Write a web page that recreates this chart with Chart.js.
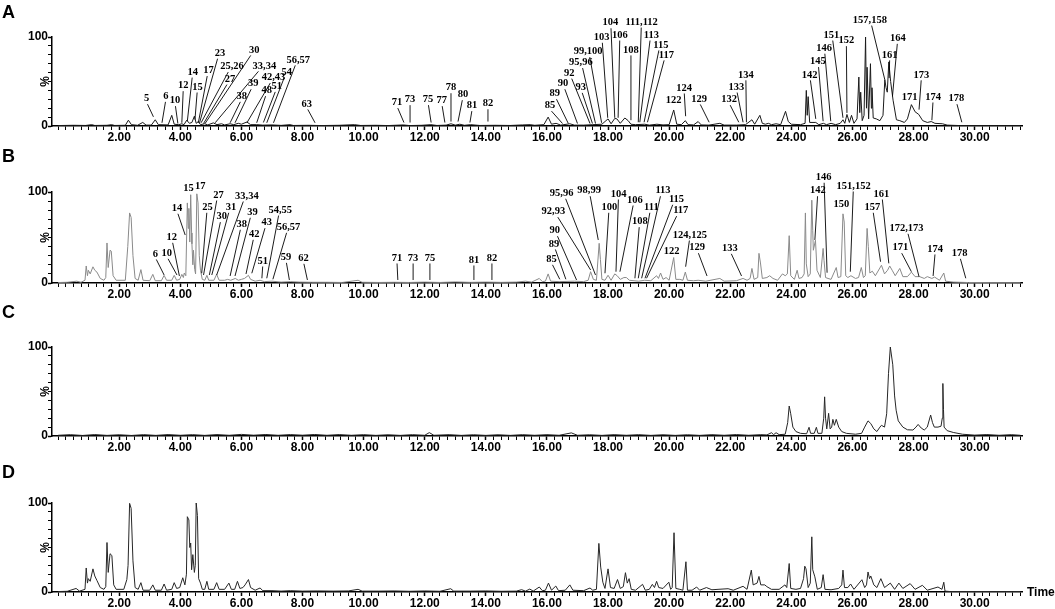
<!DOCTYPE html>
<html>
<head>
<meta charset="utf-8">
<script src="https://cdn.jsdelivr.net/npm/chart.js@4.4.1/dist/chart.umd.min.js"></script>
<style>
  html,body{margin:0;padding:0;background:#fff;}
  #wrap{position:relative;width:1055px;height:609px;overflow:hidden;background:#fff;}
  canvas{position:absolute;left:0;}
  .plet{position:absolute;left:2px;font:bold 18px "Liberation Sans",Arial,sans-serif;line-height:18px;height:18px;color:#000;}
</style>
</head>
<body>
<div id="wrap">
  <canvas id="cA" width="1055" height="157" style="top:0px"></canvas>
  <canvas id="cB" width="1055" height="154" style="top:157px"></canvas>
  <canvas id="cC" width="1055" height="155" style="top:311px"></canvas>
  <canvas id="cD" width="1055" height="143" style="top:466px"></canvas>
  <div class="plet" style="top:3px">A</div>
  <div class="plet" style="top:147px">B</div>
  <div class="plet" style="top:303px">C</div>
  <div class="plet" style="top:463px">D</div>
</div>
<script>
// ---------------- axis definitions ----------------
const xMin = -0.2, xMax = 31.55;
const xMajorTicks = [2,4,6,8,10,12,14,16,18,20,22,24,26,28,30];
const xMinorStep = 0.25;
const yTickValues = [0,10,20,30,40,50,60,70,80,90,100];
const yLabelTicks = [0,100];
const xTitle = 'Time';
const yTitle = '%';

// ---------------- traces: [time (min), intensity (%)] ----------------
const traceA = [
[0.0,0.5],[0.5,0.8],[0.9,0.6],[1.1,1.5],[1.2,0.6],[1.6,0.8],[1.75,1.5],[1.85,0.6],[2.2,0.8],[2.30,6.5],[2.4,1.5],
[2.6,0.8],[2.77,4],[2.88,1],[3.05,1],[3.18,7],[3.28,1.5],[3.6,1.2],[3.72,12],[3.8,2],[3.95,1.5],[4.05,2.5],[4.12,1.5],
[4.21,6.5],[4.3,3],[4.38,4],[4.46,11],[4.52,3],[4.59,5],[4.66,1.5],[4.8,2.5],[4.9,1.2],[5.08,3.5],[5.2,1.5],[5.35,2.5],
[5.45,1.2],[5.63,2.5],[5.75,1.5],[5.9,3],[6.0,2],[6.18,4.5],[6.3,1.5],[6.5,1.5],[6.7,1.0],[7.0,1.2],[7.3,0.7],[7.59,1.5],
[7.7,0.6],[8.2,0.8],[8.6,0.5],[9.2,0.8],[9.7,1.5],[9.9,0.6],[10.4,0.8],[10.8,0.5],[11.3,1.2],[11.5,0.5],[11.9,0.8],
[12.2,1.5],[12.4,0.6],[12.7,1.0],[12.86,2.5],[13.0,1.0],[13.15,2],[13.3,0.8],[13.5,1.5],[13.8,0.6],[14.3,0.8],[14.8,0.6],
[15.2,1.2],[15.45,1.5],[15.6,0.8],[15.9,1.5],[16.04,10],[16.15,2],[16.3,3],[16.45,1],[16.75,2.5],[16.9,1],[17.2,1],
[17.5,1.5],[17.8,2],[18.0,8],[18.1,2.5],[18.22,8.5],[18.29,8],[18.4,3],[18.55,9],[18.66,6],[18.75,2],[18.9,1.5],[19.2,2],
[19.35,1],[19.6,2],[19.8,1.2],[20.0,1.5],[20.15,18],[20.25,2],[20.4,1.5],[20.53,6],[20.62,1.5],[20.8,1.2],[20.95,5],
[21.05,1.2],[21.3,1],[21.66,3],[21.8,1],[22.2,1],[22.5,1.5],[22.71,7],[22.8,2],[22.97,12],[23.05,3],[23.15,2],[23.25,3],
[23.35,1.5],[23.5,2.5],[23.65,1.5],[23.81,16.5],[23.9,5],[24.0,2],[24.3,1.5],[24.45,3],[24.49,40],[24.52,12],[24.55,33],
[24.6,4],[24.8,4],[24.9,1.5],[25.05,3],[25.15,1.5],[25.3,3],[25.45,1.5],[25.6,3],[25.69,7],[25.75,3],[25.82,13],[25.9,4],
[25.97,12],[26.05,3],[26.15,8],[26.21,55],[26.24,15],[26.27,38],[26.32,6],[26.38,12],[26.43,100],[26.46,20],[26.48,66],
[26.53,8],[26.59,70],[26.62,20],[26.64,43],[26.68,9],[26.78,8],[26.9,6],[27.0,12],[27.06,52],[27.1,43],[27.14,38],
[27.19,72],[27.25,50],[27.33,29],[27.44,7],[27.55,6],[27.7,4],[27.8,8],[27.93,24],[28.05,16],[28.17,13],[28.3,6],
[28.45,4],[28.58,5],[28.7,3],[28.95,2.5],[29.1,1],[29.5,0.5],[30.5,0.4],[31.5,0.3]
];

const traceB = [
[0.0,0.5],[0.3,0.8],[0.61,2],[0.75,0.8],[0.88,3],[0.92,18.7],[0.96,8],[0.99,14],[1.05,10],[1.14,17.8],[1.2,14],[1.27,12],
[1.38,5],[1.5,3],[1.56,6],[1.60,44],[1.64,17],[1.70,36],[1.74,35],[1.80,8],[1.9,3],[2.2,3],[2.28,40],[2.34,77],[2.39,72],
[2.45,30],[2.52,5],[2.62,3],[2.71,14.7],[2.78,3],[3.0,2.5],[3.10,9.5],[3.18,2.5],[3.38,2.5],[3.47,8.4],[3.55,3],[3.72,3],
[3.80,8.4],[3.88,3],[3.98,4],[4.05,9.5],[4.10,6],[4.13,11],[4.18,8],[4.23,88],[4.26,60],[4.28,82],[4.31,45],[4.34,97],
[4.37,55],[4.38,43],[4.41,20],[4.43,36],[4.47,15],[4.50,10],[4.54,98],[4.58,88],[4.62,30],[4.66,14],[4.72,4],[4.8,3],
[4.87,8.4],[4.93,3],[5.1,3],[5.19,9.5],[5.27,3],[5.45,3],[5.55,4],[5.65,3],[5.80,5],[5.9,3],[6.0,4],[6.1,5],[6.23,8.4],
[6.3,4],[6.45,2],[6.61,3],[6.75,1.5],[7.0,2],[7.3,1],[7.6,1.5],[7.9,1],[8.3,0.8],[8.8,0.8],[9.3,0.6],[9.82,3],[9.95,0.8],
[10.5,0.6],[11.0,0.8],[11.5,0.6],[12.0,1],[12.5,0.6],[13.0,1.2],[13.5,0.7],[14.0,1],[14.5,0.7],[15.0,1],[15.3,2],[15.5,1],
[15.75,5],[15.85,1.5],[15.95,2],[16.04,10],[16.12,2],[16.4,1.5],[16.9,2],[17.2,1.5],[17.35,3],[17.43,12.4],[17.52,4],
[17.62,3],[17.71,43.6],[17.75,26],[17.8,4],[17.9,3],[18.0,8.5],[18.1,3],[18.22,10],[18.3,8],[18.4,4],[18.52,6],[18.6,6],
[18.7,3],[19.0,2],[19.2,3],[19.4,2.5],[19.59,8],[19.65,5],[19.72,11],[19.8,4],[19.9,6],[20.0,3],[20.15,28],[20.22,4],
[20.35,4],[20.45,3],[20.53,12],[20.6,3],[20.8,2.5],[20.95,3],[21.2,2],[21.66,5],[21.8,2],[22.2,2.5],[22.42,5],[22.55,3],
[22.65,5],[22.71,16],[22.78,4],[22.9,6],[22.94,32.6],[22.99,22],[23.05,5],[23.2,6],[23.29,8],[23.4,5],[23.55,3],[23.71,10],
[23.8,8],[23.87,10],[23.93,52],[23.98,8],[24.1,4],[24.19,14],[24.25,5],[24.35,6],[24.42,10],[24.46,77],[24.49,21],[24.55,7],
[24.62,10],[24.67,91],[24.70,58],[24.72,36],[24.79,47],[24.84,14],[24.95,6],[25.04,38],[25.07,25],[25.12,6],[25.2,5],
[25.3,4],[25.47,17],[25.53,6],[25.62,7],[25.69,76],[25.73,67],[25.78,8],[25.85,6],[25.95,8],[26.1,5],[26.2,6],[26.29,17],
[26.36,6],[26.42,8],[26.48,60],[26.52,40],[26.57,11],[26.65,13],[26.75,8],[26.95,19.5],[27.05,10],[27.15,14],[27.22,18.7],
[27.3,14],[27.4,8],[27.55,16],[27.65,7],[27.8,7],[27.93,12],[28.05,7],[28.2,7],[28.35,5],[28.45,7],[28.6,5],[28.69,6.5],
[28.85,3],[28.99,11],[29.05,2],[29.3,1],[29.8,0.5],[30.5,0.4],[31.5,0.3]
];

const traceC = [
[0,0.8],[0.4,1.5],[0.8,0.6],[1.2,1.6],[1.6,0.7],[2.0,1.4],[2.4,0.6],[2.8,1.5],[3.2,0.7],[3.6,1.6],[4.0,0.8],[4.4,1.5],
[4.8,0.7],[5.2,1.6],[5.6,0.8],[6.0,1.8],[6.4,0.9],[6.8,1.7],[7.2,0.8],[7.6,1.6],[8.0,0.9],[8.4,1.7],[8.8,0.8],[9.2,1.6],
[9.6,0.8],[10.0,1.5],[10.4,0.7],[10.8,1.4],[11.2,0.7],[11.6,1.5],[12.0,0.8],[12.15,3.8],[12.3,0.8],[12.8,1.5],[13.2,0.7],
[13.6,1.4],[14.0,0.7],[14.4,1.4],[14.8,0.7],[15.2,1.5],[15.6,0.8],[16.0,1.5],[16.4,0.8],[16.8,3.5],[17.0,0.8],[17.4,1.4],
[17.8,0.7],[18.2,1.5],[18.6,0.8],[19.0,1.5],[19.4,0.7],[19.8,1.4],[20.2,0.7],[20.6,1.4],[21.0,0.7],[21.4,1.5],[21.8,0.8],
[22.2,1.6],[22.6,0.8],[23.0,1.5],[23.2,1.2],[23.35,3.7],[23.42,1.5],[23.5,3.7],[23.6,1.5],[23.8,2],[23.88,15],[23.93,33.7],
[23.98,25],[24.05,10],[24.15,5],[24.3,3],[24.5,2.5],[24.58,9.8],[24.63,3],[24.75,3],[24.82,9.8],[24.87,3],[25.0,3],
[25.06,20],[25.09,44],[25.12,20],[25.16,8],[25.22,25.5],[25.27,8],[25.32,10],[25.36,18.7],[25.41,12],[25.47,18.7],
[25.55,10],[25.65,5],[25.8,3],[26.1,2],[26.3,3],[26.4,10],[26.51,17],[26.6,14],[26.7,8],[26.8,5],[26.9,10],[26.95,12],
[27.05,10],[27.12,25],[27.18,70],[27.24,100],[27.32,80],[27.38,45],[27.43,29],[27.5,17],[27.65,10],[27.8,7],[27.98,6.7],
[28.08,10],[28.15,13],[28.25,9],[28.35,6.7],[28.45,10],[28.56,23.6],[28.62,15],[28.68,10],[28.8,10],[28.9,11],[28.94,20],
[28.96,59],[28.98,30],[29.0,10],[29.1,6],[29.3,4],[29.6,2],[30.0,1],[30.4,1.6],[30.8,0.8],[31.2,1.5],[31.5,0.8]
];

const traceD = [
[0.0,0.5],[0.3,0.8],[0.59,4],[0.7,1],[0.88,3],[0.92,27],[0.96,10],[0.99,15],[1.05,12],[1.14,26],[1.2,18],[1.27,13],
[1.38,5],[1.5,3],[1.56,6],[1.60,55.6],[1.64,22],[1.70,43],[1.76,41],[1.82,8],[1.9,3],[2.15,3],[2.25,14],[2.29,30],
[2.34,99.6],[2.39,94],[2.45,35],[2.52,5],[2.62,3],[2.71,10.5],[2.78,2],[3.0,2],[3.10,8],[3.18,2],[3.38,2],[3.47,9],
[3.55,2],[3.72,3],[3.80,10.5],[3.88,4],[3.98,5],[4.08,16],[4.15,8],[4.20,20],[4.23,84.6],[4.28,81],[4.31,50],[4.34,55],
[4.37,25],[4.41,42],[4.46,22],[4.49,30],[4.52,100],[4.56,86],[4.6,15],[4.66,10],[4.72,3],[4.8,3],[4.87,12],[4.93,3],
[5.1,3],[5.19,10.5],[5.27,3],[5.45,3],[5.59,10],[5.67,3],[5.78,3],[5.87,12],[5.95,4],[6.05,5],[6.12,8],[6.23,14],[6.3,5],
[6.45,2],[6.61,4.5],[6.7,1.5],[7.0,1.5],[7.3,1],[7.6,1.5],[8.0,1],[8.5,1.2],[9.0,1],[9.5,1.2],[9.82,3],[9.95,1],[10.5,1],
[11.0,1.2],[11.5,0.8],[12.0,1.2],[12.5,0.8],[12.85,3.7],[12.95,1],[13.5,1],[14.0,1.2],[14.5,0.8],[15.0,1],[15.17,2.6],
[15.3,1],[15.44,3.3],[15.55,1],[15.75,5.6],[15.85,1.5],[15.95,2],[16.05,10],[16.15,2],[16.29,6.7],[16.38,1.5],[16.6,2],
[16.75,8],[16.85,2],[17.2,1.5],[17.41,4.5],[17.5,2],[17.62,3],[17.70,54.6],[17.76,28],[17.83,11],[17.9,4],[18.0,26],
[18.08,5],[18.2,4],[18.31,14],[18.4,4],[18.5,6],[18.57,21.7],[18.63,10],[18.69,15],[18.76,3],[18.9,2],[19.13,8.6],
[19.22,2],[19.35,3],[19.45,8.6],[19.52,5],[19.59,12],[19.66,5],[19.8,4],[19.99,11],[20.05,3],[20.1,5],[20.16,66.6],
[20.22,4],[20.35,3],[20.45,2],[20.55,34],[20.6,2],[20.75,2],[20.9,5.6],[21.0,2],[21.22,5],[21.4,2.5],[21.6,3],[21.93,3.7],
[22.1,2],[22.42,6.4],[22.55,3],[22.69,24.6],[22.75,8],[22.88,10],[22.94,17.5],[23.0,8],[23.13,8],[23.2,6],[23.35,3],
[23.6,3],[23.79,8],[23.85,5],[23.93,32],[23.98,4],[24.15,3],[24.3,4],[24.4,15],[24.44,29],[24.48,26],[24.55,5],[24.62,10],
[24.67,62],[24.7,25],[24.77,17],[24.85,3],[24.98,5],[25.04,19.5],[25.1,3],[25.3,2.5],[25.55,4],[25.65,8],[25.69,24.6],
[25.74,5],[25.85,5],[25.94,9],[26.05,3],[26.31,13.8],[26.4,5],[26.46,8],[26.51,22.5],[26.56,15],[26.6,18],[26.7,8],
[26.8,5],[26.93,15],[27.05,5],[27.24,10],[27.38,3],[27.52,10],[27.65,4],[27.89,9.4],[28.05,3],[28.29,7.5],[28.45,2],
[28.8,5.6],[28.93,3],[28.99,11],[29.03,1],[29.2,0.5],[31.5,0.5]
];

// ---------------- peak labels: [text, label time, label %, peak time, peak %] ----------------
const labelsA = [
["5",2.90,30.7,3.12,10.3],["6",3.53,33.3,3.40,3.6],["10",3.83,28.5,3.92,2.8],["12",4.10,45.3,4.05,3.6],
["14",4.41,60.6,4.23,5.4],["15",4.56,43.8,4.48,7.3],["17",4.92,62.3,4.59,3.6],["23",5.30,81.8,4.63,3.6],
["25,26",5.69,66.8,4.68,3.6],["27",5.63,52.7,4.76,2.8],["30",6.42,85.5,4.81,2.8],["33,34",6.75,67.6,5.14,3.6],
["38",6.01,33.3,5.63,3.6],["39",6.39,47.5,5.79,3.6],["42,43",7.05,54.5,6.18,3.6],["48",6.83,39.7,6.50,3.6],
["51",7.16,44.5,6.72,4],["54",7.48,60.6,6.83,3.6],["56,57",7.86,74.3,7.05,3.6],["63",8.14,24.8,8.41,3.6],
["71",11.09,26.3,11.32,3.9],["73",11.52,29.6,11.52,3.9],["75",12.11,29.6,12.21,3.9],["77",12.56,28.5,12.66,3.9],
["78",12.86,43,12.86,5],["80",13.25,35.2,13.09,5],["81",13.55,22.9,13.48,3.9],["82",14.07,25,14.07,5],
["85",16.10,22.9,16.51,2.8],["89",16.26,36.3,16.70,2.8],["90",16.53,47.5,17.00,2.8],["92",16.73,59.4,17.41,2.8],
["93",17.11,43.4,17.49,2.8],["95,96",17.11,71.3,17.59,2.8],["99,100",17.35,83.6,17.79,3.6],["103",17.79,99.7,17.99,9.2],
["104",18.08,116,18.22,9.2],["106",18.39,102.2,18.33,9.2],["108",18.75,85.5,18.75,6.5],["111,112",19.10,116.8,18.99,4.2],
["113",19.42,102.2,19.04,4.2],["115",19.73,91.1,19.18,4.2],["117",19.91,79.9,19.29,4.2],["122",20.15,28.5,null,null],
["124",20.49,42.7,20.54,11],["129",20.98,30.4,21.31,4.2],["132",21.96,29.6,22.28,4.2],["133",22.20,43.8,22.42,4.2],
["134",22.51,57.5,22.53,4.2],["142",24.60,57.5,24.80,8],["145",24.87,72.4,25.04,5.4],["146",25.07,87.4,25.29,5.4],
["151",25.31,102.2,25.69,9.2],["152",25.80,95.9,25.82,14.7],["157,158",26.57,119,27.06,52],["161",27.22,79.9,27.20,53.9],
["164",27.49,98.5,27.31,33.3],["171",27.87,32.2,null,null],["173",28.26,57.5,28.18,18.4],["174",28.64,32.6,28.60,6.5],
["178",29.40,30.7,29.58,4.2]
];

const labelsB = [
["6",3.18,31.9,3.47,8.8],["10",3.56,32.6,3.89,8.8],["12",3.72,50.2,3.97,7.7],["14",3.89,82.1,4.16,52.7],
["15",4.27,104.1,null,null],["17",4.65,106.6,null,null],["25",4.89,83.2,4.70,10.7],["27",5.25,96.7,4.76,8.8],
["30",5.36,72.9,4.95,8.8],["31",5.66,83.2,5.03,8.8],["33,34",6.18,95.6,5.19,8.8],["38",6.01,64.5,5.63,7.7],
["39",6.36,77.7,5.79,7.7],["42",6.42,53.5,6.15,9.9],["43",6.83,66.3,6.34,10.7],["51",6.70,24.2,6.67,5.2],
["54,55",7.27,80.2,6.83,5.2],["56,57",7.54,61.2,7.03,4.1],["59",7.46,28.2,7.57,3.3],["62",8.03,27.1,8.16,3.3],
["71",11.09,27.5,11.12,3.3],["73",11.62,27.5,11.62,3.3],["75",12.17,27.5,12.17,3.3],["81",13.61,25.3,13.61,3.3],
["82",14.2,27.5,14.2,3.3],["85",16.15,26.0,16.42,4.1],["89",16.23,42.9,16.62,4.1],["90",16.26,57.5,16.97,3.3],
["92,93",16.21,78.4,17.43,14.3],["95,96",16.48,98.6,17.59,8.8],["98,99",17.38,101.4,17.68,47.3],["100",18.04,83.2,17.90,10.7],
["104",18.35,97.8,18.26,12.4],["106",18.88,91.2,18.39,12.4],["108",19.04,67.4,18.88,5.2],["111",19.42,83.2,18.99,5.2],
["113",19.80,101.4,19.10,5.2],["115",20.24,92,19.21,5.2],["117",20.38,79.5,19.26,5.2],["122",20.08,34.4,null,null],
["124,125",20.68,52.7,20.54,17.9],["129",20.92,38.8,21.24,7.7],["133",21.99,38.1,22.37,7.7],["142",24.87,101.4,24.77,47.3],
["146",25.06,116.2,25.17,11.3],["150",25.64,86.8,null,null],["151,152",26.04,106.6,25.93,12.4],["157",26.65,83.2,26.92,23.4],
["161",26.95,97.8,27.19,21.6],["171",27.57,38.8,27.93,12.4],["172,173",27.77,60.1,28.18,6.9],["174",28.71,37.4,28.64,7.7],
["178",29.51,32.6,29.71,5.2]
];

// ---------------- drawing ----------------
const axisFont = {family:'"Liberation Sans", Arial, sans-serif', size:12, weight:'bold'};

const peakLabels = {
  id:'peakLabels',
  afterDatasetsDraw(chart, args, opts){
    const {ctx, chartArea, scales:{x, y}} = chart;
    ctx.save();
    ctx.font = 'bold 10.5px "Liberation Serif", "Times New Roman", serif';
    ctx.fillStyle = '#000'; ctx.strokeStyle = '#000'; ctx.lineWidth = 0.9;
    ctx.textAlign = 'center'; ctx.textBaseline = 'middle';
    (opts.items || []).forEach(([txt, lx, ly, tx, ty]) => {
      const px = x.getPixelForValue(lx), py = y.getPixelForValue(ly);
      ctx.fillText(txt, px, py);
      if (tx !== null && tx !== undefined){
        const w = ctx.measureText(txt).width;
        const qx = x.getPixelForValue(tx), qy = y.getPixelForValue(ty);
        let dx = (qx - px) * 0.12;
        dx = Math.max(-w/3, Math.min(w/3, dx));
        ctx.beginPath(); ctx.moveTo(px + dx, py + 5.5); ctx.lineTo(qx, qy); ctx.stroke();
      }
    });
    // y title
    ctx.font = 'bold 12px "Liberation Sans", Arial, sans-serif';
    ctx.save();
    ctx.translate(chartArea.left - 6, (chartArea.top + chartArea.bottom) / 2);
    ctx.rotate(-Math.PI / 2);
    ctx.fillText(yTitle, 0, 0);
    ctx.restore();
    if (opts.showTime){
      ctx.textAlign = 'left';
      ctx.fillText(xTitle, chartArea.right + 5, chartArea.bottom + 1);
    }
    ctx.restore();
  }
};

function xTickList(){
  const arr = [];
  for (let i = 0; i * xMinorStep <= 31.5 + 1e-9; i++) arr.push({value: +(i * xMinorStep).toFixed(2)});
  return arr;
}
function isMajor(v){ return xMajorTicks.some(m => Math.abs(m - v) < 1e-6); }

function makeChart(id, trace, labels, color, padTop, axisH, showTime){
  new Chart(document.getElementById(id), {
    type:'line',
    data:{datasets:[{
      data: trace.map(([t, v]) => ({x:t, y:v})),
      borderColor: color, borderWidth: 1, pointRadius: 0, tension: 0, fill: false
    }]},
    options:{
      responsive:false, animation:false,
      layout:{padding:{top:padTop, right:33, left:0, bottom:0}},
      plugins:{legend:{display:false}, tooltip:{enabled:false}, peakLabels:{items:labels, showTime:showTime}},
      scales:{
        x:{
          type:'linear', min:xMin, max:xMax,
          afterBuildTicks(s){ s.ticks = xTickList(); },
          afterFit(s){ s.height = axisH; },
          grid:{drawOnChartArea:false, drawTicks:true, tickLength:4, color:'#000',
                tickWidth:(c) => (c.tick && isMajor(c.tick.value)) ? 1.5 : 1},
          border:{display:true, color:'#000', width:1.5},
          ticks:{autoSkip:false, maxRotation:0, minRotation:0, padding:0, color:'#000', font:axisFont,
                 callback:(v) => isMajor(v) ? v.toFixed(2) : ''}
        },
        y:{
          min:0, max:100,
          afterBuildTicks(s){ s.ticks = yTickValues.map(v => ({value:v})); },
          afterFit(s){ s.width = 52; },
          grid:{drawOnChartArea:false, drawTicks:true, tickLength:4, color:'#000',
                tickWidth:(c) => (c.tick && yLabelTicks.includes(c.tick.value)) ? 1.5 : 1},
          border:{display:true, color:'#000', width:1.5},
          ticks:{autoSkip:false, padding:0, color:'#000', font:axisFont,
                 callback:(v) => yLabelTicks.includes(v) ? String(v) : ''}
        }
      }
    },
    plugins:[peakLabels]
  });
}

makeChart('cA', traceA, labelsA, '#1a1a1a', 37, 31, false);
makeChart('cB', traceB, labelsB, '#8a8a8a', 35, 28, false);
makeChart('cC', traceC, [], '#262626', 36, 30, false);
makeChart('cD', traceD, [], '#262626', 37, 17, true);
</script>
</body>
</html>
